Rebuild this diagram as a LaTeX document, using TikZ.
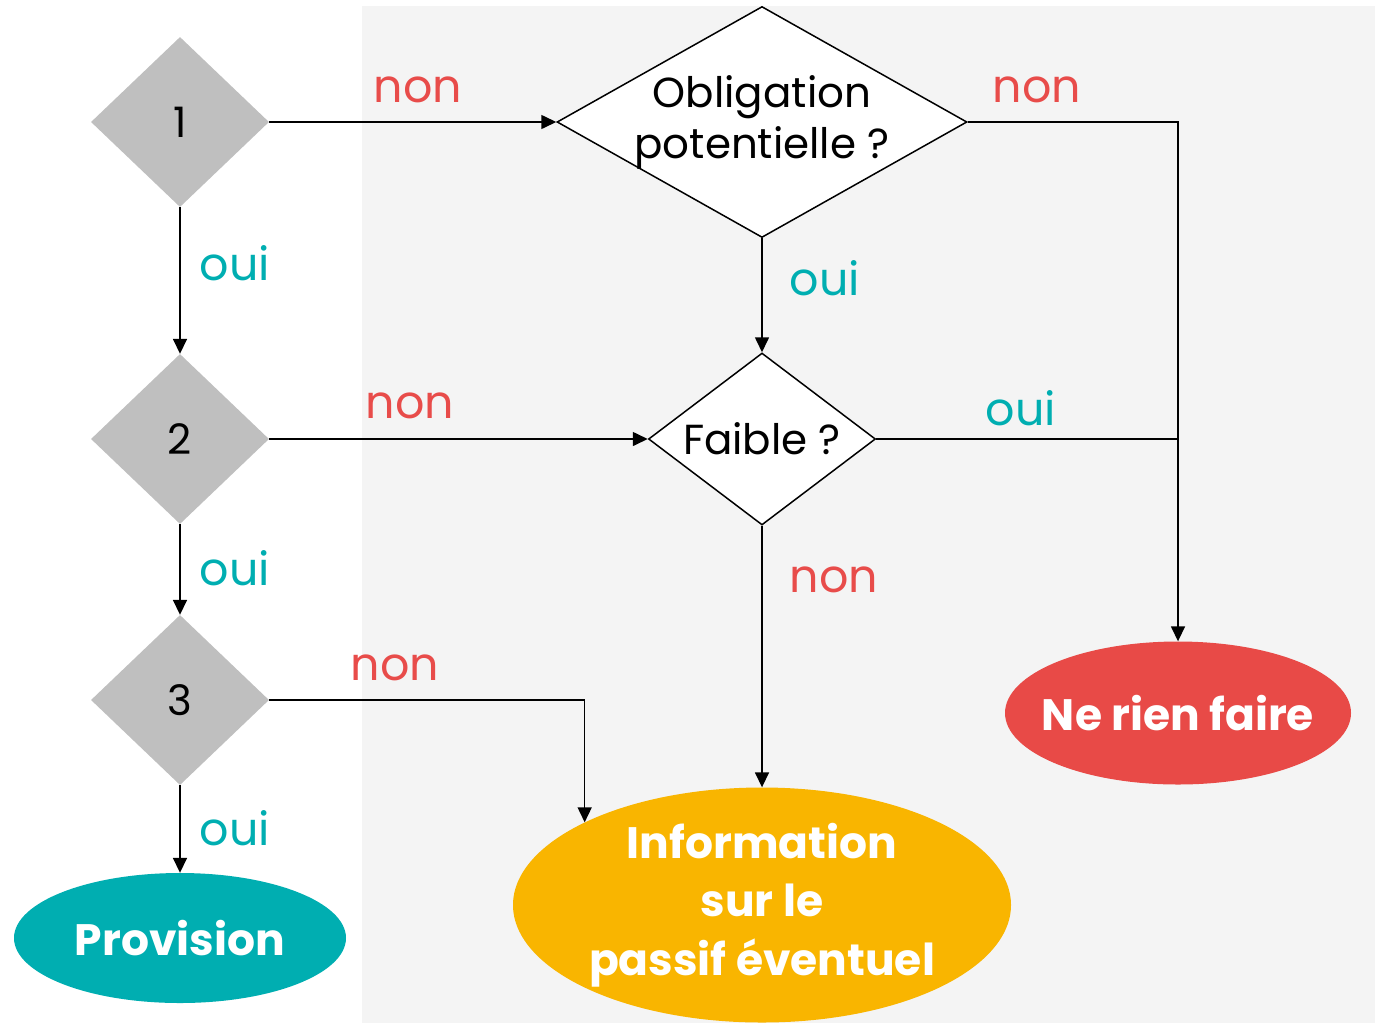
\documentclass[tikz,border=0pt]{standalone}
\usepackage{fontspec}
\setmainfont{Poppins}
\usetikzlibrary{shapes.geometric,arrows.meta}
\definecolor{bggray}{HTML}{F4F4F4}
\definecolor{dgray}{HTML}{BFBFBF}
\definecolor{nonred}{HTML}{E84C4A}
\definecolor{ouiteal}{HTML}{00AEB1}
\definecolor{infoorange}{HTML}{F9B500}
\definecolor{nrfred}{HTML}{E84A47}
\tikzset{
  graydia/.style={diamond, fill=dgray, inner sep=0pt, minimum width=178pt, minimum height=170pt, font=\fontsize{42}{50}\selectfont},
  whitedia/.style={diamond, fill=white, draw=black, line width=1.5pt, inner sep=0pt},
  endell/.style={ellipse, inner sep=0pt, text=white, font=\fontsize{44}{58.5}\bfseries\selectfont, align=center},
  conn/.style={line width=1.6pt, -{Triangle[length=15pt,width=14pt]}},
  nonlbl/.style={text=nonred, font=\fontsize{46}{52}\selectfont},
  ouilbl/.style={text=ouiteal, font=\fontsize{46}{52}\selectfont},
}
\begin{document}
\begin{tikzpicture}[x=1pt,y=-1pt]
\useasboundingbox (0,0) rectangle (1375,1023);
\fill[bggray] (362,6) rectangle (1375,1023);
% decision diamonds
\node[graydia] (d1) at (180,122) {1};
\node[graydia] (d2) at (180,439) {2};
\node[graydia] (d3) at (180,700) {3};
\node[whitedia, minimum width=410pt, minimum height=231pt,
  label={[font=\fontsize{42}{51}\selectfont, align=center]center:Obligation\\potentielle ?}] (obl) at (762,122) {};
\node[whitedia, minimum width=227pt, minimum height=172pt,
  label={[font=\fontsize{42}{50}\selectfont]center:Faible ?}] (fai) at (762,439) {};
% end nodes
\node[endell, fill=ouiteal, minimum width=332pt, minimum height=130pt] (prov) at (180,938) {\makebox[0pt]{Provision}};
\node[endell, fill=infoorange, minimum width=498pt, minimum height=235pt] (info) at (762,905) {Information\\sur le\\passif éventuel};
\node[endell, fill=nrfred, minimum width=346pt, minimum height=143pt] (nrf) at (1178,713) {\makebox[0pt]{Ne rien faire}};
% connectors
\draw[conn] (d1.east) -- (obl.west);
\draw[conn] (d1.south) -- (d2.north);
\draw[conn] (d2.east) -- (fai.west);
\draw[conn] (d2.south) -- (d3.north);
\draw[conn] (d3.south) -- (prov.north);
\draw[conn] (d3.east) -| (info.155);
\draw[conn] (obl.south) -- (fai.north);
\draw[conn] (obl.east) -| (nrf.north);
\draw[line width=1.6pt] (fai.east) -- (fai.east -| nrf.north);
\draw[conn] (fai.south) -- (info.north);
% labels
\node[nonlbl] (l1) at (418,90) {non};
\node[nonlbl] (l2) at (1037,90) {non};
\node[nonlbl] (l3) at (410,406) {non};
\node[nonlbl] (l4) at (834,580) {non};
\node[nonlbl] (l5) at (395,668) {non};
\node[ouilbl] (o1) at (235,263) {oui};
\node[ouilbl] (o2) at (825,278) {oui};
\node[ouilbl] (o3) at (1021,408) {oui};
\node[ouilbl] (o4) at (235,568) {oui};
\node[ouilbl] (o5) at (235,828) {oui};
\end{tikzpicture}
\end{document}
